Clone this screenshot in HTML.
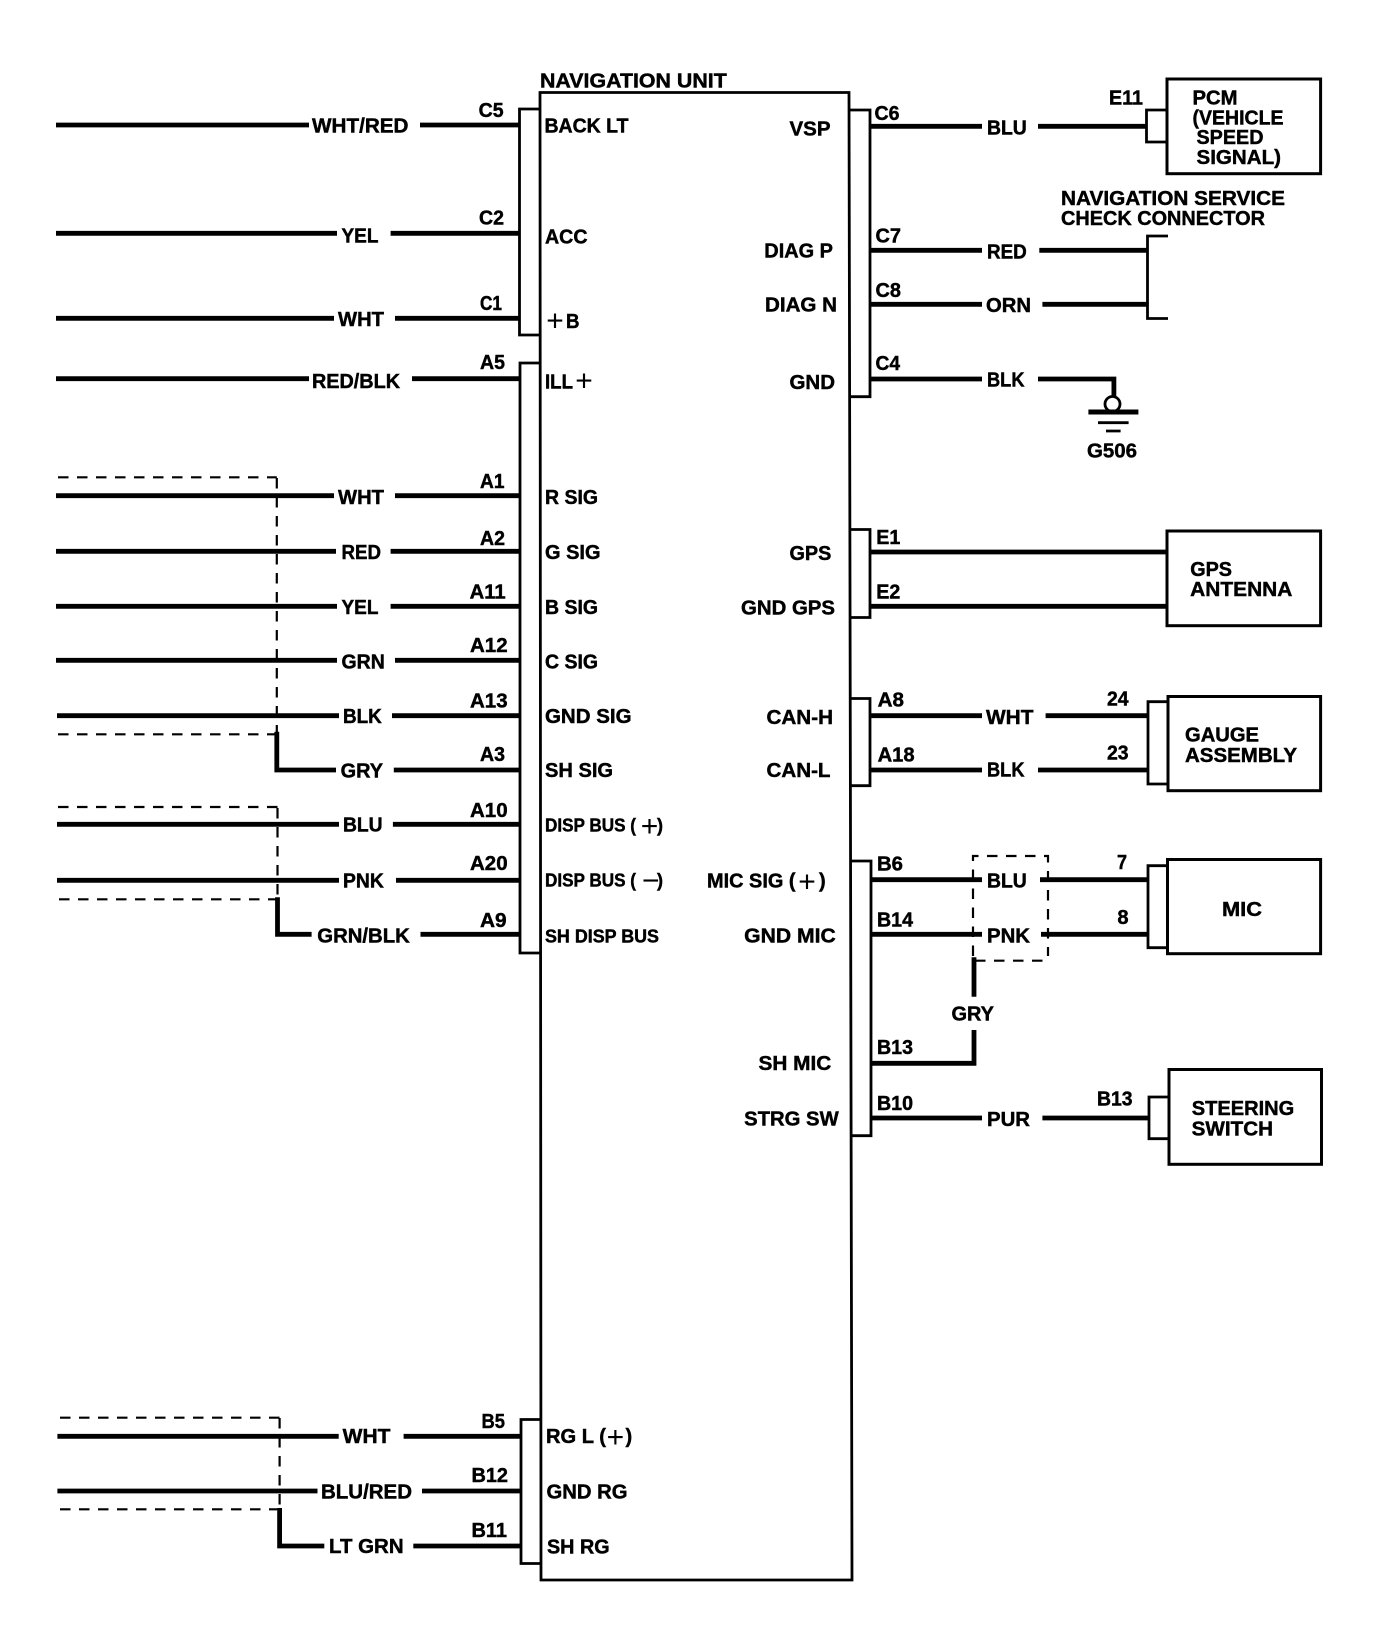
<!DOCTYPE html>
<html><head><meta charset="utf-8"><title>Navigation Unit</title>
<style>
html,body{margin:0;padding:0;background:#fff}
svg{display:block}
text{font-family:"Liberation Sans",sans-serif;font-weight:700;font-size:20px;fill:#000;stroke:#000;stroke-width:.45}
.p{font-weight:400;font-size:30px;stroke-width:0}
.s{font-size:18px}
</style></head><body>
<svg width="1392" height="1634" viewBox="0 0 1392 1634" xmlns="http://www.w3.org/2000/svg">
<g fill="none" stroke="#000" stroke-width="2.8">
<path d="M540 92.5H849L852 1580H541Z"/>
<path d="M540 109H519.5V335H540"/>
<path d="M540 363H520V953H540"/>
<path d="M541 1419.5H521V1563.5H541"/>
<path d="M849 110H870V396.7H850"/>
<path d="M850 529.5H870V617.5H850"/>
<path d="M850 698.5H870V785.7H850"/>
<path d="M851 861H871V1135.7H852"/>
<path d="M1167 110H1146.5V142H1167"/>
<path d="M1168 236H1147.5V318.5H1168"/>
<path d="M1168 701.7H1148V784H1168"/>
<path d="M1167.5 865.7H1148V947.7H1167.5"/>
<path d="M1169 1097H1149V1138.7H1169"/>
<rect x="1167" y="79" width="153.6" height="94.7" stroke-width="3"/>
<rect x="1167" y="531" width="153.6" height="94.7" stroke-width="3"/>
<rect x="1168" y="696.5" width="152.6" height="94.2" stroke-width="3"/>
<rect x="1167.5" y="859.5" width="153.1" height="94.2" stroke-width="3"/>
<rect x="1169" y="1069.5" width="152.5" height="94.8" stroke-width="3"/>
<ellipse cx="1112.5" cy="404" rx="7.5" ry="7.5"/>
<path d="M1098 422.7H1128.6M1106 431H1120.6"/>
</g>
<g fill="none" stroke="#000" stroke-width="2.2" stroke-dasharray="10.5 8.5">
<path d="M58 477.3H276.8"/><path d="M276.8 478V734"/><path d="M58 734.3H276.8"/>
<path d="M58 807H277.5"/><path d="M277.5 808V897"/><path d="M59 899.3H277.5"/>
<path d="M60 1417.7H279.6"/><path d="M279.6 1418V1509"/><path d="M60 1509.3H279.6"/>
<path d="M973 956V856H1048V956"/><path d="M975 960.7H1048"/>
</g>
<g fill="none" stroke="#000" stroke-width="4.8">
<path d="M56 125H309M420 125H519"/>
<path d="M56 233.3H337M390.6 233.3H519"/>
<path d="M56 318.3H334M395 318.3H519"/>
<path d="M56 378.7H309M412 378.7H519"/>
<path d="M56 495.7H334M395 495.7H519"/>
<path d="M56 551.3H336M390.6 551.3H519"/>
<path d="M56 606.3H337M390.6 606.3H519"/>
<path d="M56 660.3H337M395 660.3H519"/>
<path d="M57 715.7H339M392 715.7H520"/>
<path d="M276.8 731.7V770H336M393.8 770H520"/>
<path d="M57 824.3H339M392.9 824.3H520"/>
<path d="M57 880.3H339M396 880.3H520"/>
<path d="M277.5 897.3V934.3H311.6M420.5 934.3H520"/>
<path d="M57.4 1436.3H338.7M403.6 1436.3H521"/>
<path d="M57.4 1491H317.5M422 1491H521"/>
<path d="M279.6 1508V1546H324.3M413.3 1546H521"/>
<path d="M870 126.3H982M1038 126.3H1146.5"/>
<path d="M870 250.3H982M1039.3 250.3H1147.5"/>
<path d="M870 304.3H982M1042.4 304.3H1147.5"/>
<path d="M870 379H982M1038 379H1113.9V396.7"/>
<path d="M1088.4 412H1138.4" stroke-width="5"/>
<path d="M870 552H1167"/>
<path d="M870 606.3H1167"/>
<path d="M870 715.7H982M1045.6 715.7H1148"/>
<path d="M870 770H982M1038 770H1148"/>
<path d="M871 879.7H982M1040 879.7H1148"/>
<path d="M871.5 934.3H982M1041 934.3H1148"/>
<path d="M974 957.3V996.7M974 1030V1063.3H871.5"/>
<path d="M871.5 1118H982M1042.4 1118H1149"/>
</g>
<g>
<text x="540" y="87.7" textLength="186.8" lengthAdjust="spacingAndGlyphs">NAVIGATION UNIT</text>
<text x="312" y="132.7" textLength="96.5" lengthAdjust="spacingAndGlyphs">WHT/RED</text>
<text x="478.6" y="117" textLength="25" lengthAdjust="spacingAndGlyphs">C5</text>
<text x="544.5" y="132.5" textLength="84" lengthAdjust="spacingAndGlyphs">BACK LT</text>
<text x="341.5" y="242.3" textLength="37" lengthAdjust="spacingAndGlyphs">YEL</text>
<text x="479" y="224.5" textLength="25" lengthAdjust="spacingAndGlyphs">C2</text>
<text x="545" y="243.5" textLength="42.5" lengthAdjust="spacingAndGlyphs">ACC</text>
<text x="338" y="326.2" textLength="46" lengthAdjust="spacingAndGlyphs">WHT</text>
<text x="480" y="310.2" textLength="22" lengthAdjust="spacingAndGlyphs">C1</text>
<text class="p" x="546.2" y="330.5">+</text>
<text x="566" y="328" textLength="13.5" lengthAdjust="spacingAndGlyphs">B</text>
<text x="312" y="388" textLength="88" lengthAdjust="spacingAndGlyphs">RED/BLK</text>
<text x="480" y="369" textLength="25" lengthAdjust="spacingAndGlyphs">A5</text>
<text x="545" y="388.3" textLength="28" lengthAdjust="spacingAndGlyphs">ILL</text>
<text class="p" x="575.2" y="390.5">+</text>
<text x="338" y="504" textLength="46" lengthAdjust="spacingAndGlyphs">WHT</text>
<text x="480" y="488" textLength="24.5" lengthAdjust="spacingAndGlyphs">A1</text>
<text x="545" y="503.8" textLength="53" lengthAdjust="spacingAndGlyphs">R SIG</text>
<text x="341.5" y="559" textLength="39.5" lengthAdjust="spacingAndGlyphs">RED</text>
<text x="480" y="545" textLength="25" lengthAdjust="spacingAndGlyphs">A2</text>
<text x="545" y="559" textLength="55.5" lengthAdjust="spacingAndGlyphs">G SIG</text>
<text x="341.5" y="614" textLength="37" lengthAdjust="spacingAndGlyphs">YEL</text>
<text x="469.6" y="598.7" textLength="36" lengthAdjust="spacingAndGlyphs">A11</text>
<text x="545" y="614" textLength="53" lengthAdjust="spacingAndGlyphs">B SIG</text>
<text x="341.5" y="668.5" textLength="43.3" lengthAdjust="spacingAndGlyphs">GRN</text>
<text x="470" y="651.8" textLength="37.6" lengthAdjust="spacingAndGlyphs">A12</text>
<text x="545" y="668.5" textLength="53" lengthAdjust="spacingAndGlyphs">C SIG</text>
<text x="343" y="723" textLength="38.8" lengthAdjust="spacingAndGlyphs">BLK</text>
<text x="470" y="707.5" textLength="37.6" lengthAdjust="spacingAndGlyphs">A13</text>
<text x="545" y="723.2" textLength="86.5" lengthAdjust="spacingAndGlyphs">GND SIG</text>
<text x="340.6" y="777.5" textLength="42.4" lengthAdjust="spacingAndGlyphs">GRY</text>
<text x="480" y="761.2" textLength="25" lengthAdjust="spacingAndGlyphs">A3</text>
<text x="545" y="776.8" textLength="68" lengthAdjust="spacingAndGlyphs">SH SIG</text>
<text x="343" y="831.5" textLength="39.6" lengthAdjust="spacingAndGlyphs">BLU</text>
<text x="470" y="816.8" textLength="37.6" lengthAdjust="spacingAndGlyphs">A10</text>
<text class="s" x="545" y="831.5" textLength="91" lengthAdjust="spacingAndGlyphs">DISP BUS (</text>
<text class="p" x="640.8" y="836.2">+</text>
<text class="s" x="657" y="831.5">)</text>
<text x="343" y="887.3" textLength="40.8" lengthAdjust="spacingAndGlyphs">PNK</text>
<text x="470" y="870.2" textLength="37.6" lengthAdjust="spacingAndGlyphs">A20</text>
<text class="s" x="545" y="886.5" textLength="91" lengthAdjust="spacingAndGlyphs">DISP BUS (</text>
<text class="p" x="642" y="890.5">−</text>
<text class="s" x="657" y="886.5">)</text>
<text x="317.3" y="942.5" textLength="92.5" lengthAdjust="spacingAndGlyphs">GRN/BLK</text>
<text x="480" y="927" textLength="26.6" lengthAdjust="spacingAndGlyphs">A9</text>
<text class="s" x="545" y="942.5" textLength="114" lengthAdjust="spacingAndGlyphs">SH DISP BUS</text>
<text x="342.7" y="1443" textLength="47.7" lengthAdjust="spacingAndGlyphs">WHT</text>
<text x="481.5" y="1428" textLength="23.5" lengthAdjust="spacingAndGlyphs">B5</text>
<text x="546" y="1443" textLength="60" lengthAdjust="spacingAndGlyphs">RG L (</text>
<text class="p" x="606.6" y="1447.2">+</text>
<text x="625.5" y="1443">)</text>
<text x="321" y="1498.3" textLength="91" lengthAdjust="spacingAndGlyphs">BLU/RED</text>
<text x="471.5" y="1482" textLength="36.5" lengthAdjust="spacingAndGlyphs">B12</text>
<text x="546.5" y="1498.5" textLength="81" lengthAdjust="spacingAndGlyphs">GND RG</text>
<text x="329" y="1553" textLength="74.6" lengthAdjust="spacingAndGlyphs">LT GRN</text>
<text x="471.5" y="1537" textLength="35.5" lengthAdjust="spacingAndGlyphs">B11</text>
<text x="547" y="1553.5" textLength="62.6" lengthAdjust="spacingAndGlyphs">SH RG</text>
<text x="789.5" y="135.7" textLength="41" lengthAdjust="spacingAndGlyphs">VSP</text>
<text x="874.5" y="120" textLength="25" lengthAdjust="spacingAndGlyphs">C6</text>
<text x="987" y="134.3" textLength="39.8" lengthAdjust="spacingAndGlyphs">BLU</text>
<text x="1109" y="104.3" textLength="34" lengthAdjust="spacingAndGlyphs">E11</text>
<text x="1192.5" y="104.3" textLength="45" lengthAdjust="spacingAndGlyphs">PCM</text>
<text x="1192.5" y="124.3" textLength="91" lengthAdjust="spacingAndGlyphs">(VEHICLE</text>
<text x="1196.5" y="144" textLength="67" lengthAdjust="spacingAndGlyphs">SPEED</text>
<text x="1196.5" y="163.8" textLength="84.5" lengthAdjust="spacingAndGlyphs">SIGNAL)</text>
<text x="1061" y="205" textLength="224" lengthAdjust="spacingAndGlyphs">NAVIGATION SERVICE</text>
<text x="1061" y="225" textLength="204" lengthAdjust="spacingAndGlyphs">CHECK CONNECTOR</text>
<text x="764.3" y="257.7" textLength="68.7" lengthAdjust="spacingAndGlyphs">DIAG P</text>
<text x="875.5" y="242.7" textLength="25.5" lengthAdjust="spacingAndGlyphs">C7</text>
<text x="987" y="258.5" textLength="39.8" lengthAdjust="spacingAndGlyphs">RED</text>
<text x="765" y="311.5" textLength="72" lengthAdjust="spacingAndGlyphs">DIAG N</text>
<text x="875.5" y="297" textLength="25.5" lengthAdjust="spacingAndGlyphs">C8</text>
<text x="986" y="312" textLength="45" lengthAdjust="spacingAndGlyphs">ORN</text>
<text x="789.5" y="388.8" textLength="45.5" lengthAdjust="spacingAndGlyphs">GND</text>
<text x="875.5" y="370" textLength="24.5" lengthAdjust="spacingAndGlyphs">C4</text>
<text x="987" y="386.7" textLength="37.5" lengthAdjust="spacingAndGlyphs">BLK</text>
<text x="1087" y="457.7" textLength="50" lengthAdjust="spacingAndGlyphs">G506</text>
<text x="789.5" y="560" textLength="41.8" lengthAdjust="spacingAndGlyphs">GPS</text>
<text x="876.3" y="544" textLength="24" lengthAdjust="spacingAndGlyphs">E1</text>
<text x="1190.2" y="576" textLength="41.8" lengthAdjust="spacingAndGlyphs">GPS</text>
<text x="1190.2" y="596.2" textLength="102.2" lengthAdjust="spacingAndGlyphs">ANTENNA</text>
<text x="876.3" y="598.5" textLength="24" lengthAdjust="spacingAndGlyphs">E2</text>
<text x="741" y="614.5" textLength="94" lengthAdjust="spacingAndGlyphs">GND GPS</text>
<text x="877.6" y="706.7" textLength="26.4" lengthAdjust="spacingAndGlyphs">A8</text>
<text x="766.5" y="724" textLength="66.5" lengthAdjust="spacingAndGlyphs">CAN-H</text>
<text x="986" y="724" textLength="47.5" lengthAdjust="spacingAndGlyphs">WHT</text>
<text x="1107" y="705.7" textLength="21.6" lengthAdjust="spacingAndGlyphs">24</text>
<text x="1185" y="741.5" textLength="74" lengthAdjust="spacingAndGlyphs">GAUGE</text>
<text x="1185" y="762" textLength="112" lengthAdjust="spacingAndGlyphs">ASSEMBLY</text>
<text x="877.6" y="761.7" textLength="37" lengthAdjust="spacingAndGlyphs">A18</text>
<text x="766.5" y="777" textLength="64" lengthAdjust="spacingAndGlyphs">CAN-L</text>
<text x="987" y="776.5" textLength="37.5" lengthAdjust="spacingAndGlyphs">BLK</text>
<text x="1107" y="759.3" textLength="21.6" lengthAdjust="spacingAndGlyphs">23</text>
<text x="877" y="870.7" textLength="26" lengthAdjust="spacingAndGlyphs">B6</text>
<text x="707" y="887.5" textLength="88.5" lengthAdjust="spacingAndGlyphs">MIC SIG (</text>
<text class="p" x="798.2" y="891.5">+</text>
<text x="819" y="887.5">)</text>
<text x="987" y="887.7" textLength="39.8" lengthAdjust="spacingAndGlyphs">BLU</text>
<text x="1117" y="869" textLength="10" lengthAdjust="spacingAndGlyphs">7</text>
<text x="1222" y="916" textLength="40" lengthAdjust="spacingAndGlyphs">MIC</text>
<text x="877" y="926.7" textLength="36" lengthAdjust="spacingAndGlyphs">B14</text>
<text x="744.2" y="942.3" textLength="91.6" lengthAdjust="spacingAndGlyphs">GND MIC</text>
<text x="987" y="942.7" textLength="43" lengthAdjust="spacingAndGlyphs">PNK</text>
<text x="1117.4" y="924" textLength="11.2" lengthAdjust="spacingAndGlyphs">8</text>
<text x="951.5" y="1020.7" textLength="42.5" lengthAdjust="spacingAndGlyphs">GRY</text>
<text x="877" y="1054" textLength="36" lengthAdjust="spacingAndGlyphs">B13</text>
<text x="758.5" y="1070" textLength="72.8" lengthAdjust="spacingAndGlyphs">SH MIC</text>
<text x="877" y="1110" textLength="36" lengthAdjust="spacingAndGlyphs">B10</text>
<text x="744.2" y="1125.7" textLength="94.5" lengthAdjust="spacingAndGlyphs">STRG SW</text>
<text x="987" y="1126" textLength="43" lengthAdjust="spacingAndGlyphs">PUR</text>
<text x="1097" y="1105.7" textLength="35.6" lengthAdjust="spacingAndGlyphs">B13</text>
<text x="1191.7" y="1115" textLength="102.6" lengthAdjust="spacingAndGlyphs">STEERING</text>
<text x="1191.7" y="1135.3" textLength="81.3" lengthAdjust="spacingAndGlyphs">SWITCH</text>
</g>
</svg>
</body></html>
